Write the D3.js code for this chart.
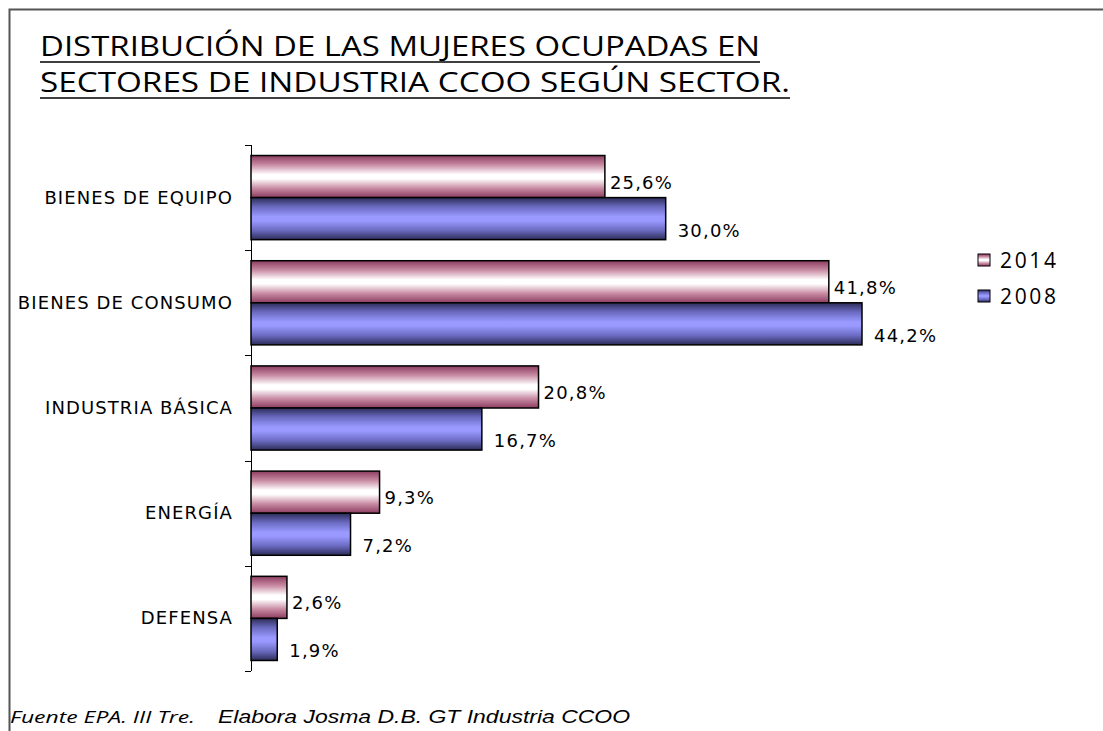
<!DOCTYPE html>
<html>
<head>
<meta charset="utf-8">
<script src="https://cdn.jsdelivr.net/npm/d3@7"></script>
<style>
  body { margin: 0; background: #fff; }
  svg { display: block; }
</style>
</head>
<body>
<svg id="canvas" width="1103" height="731"></svg>
<script>
// data
let sectors = ["BIENES DE EQUIPO", "BIENES DE CONSUMO", "INDUSTRIA BÁSICA", "ENERGÍA", "DEFENSA"];
let years = ["2014", "2008"];
let values2014 = [25.6, 41.8, 20.8, 9.3, 2.6];
let values2008 = [30.0, 44.2, 16.7, 7.2, 1.9];
let titleLines = ["DISTRIBUCIÓN DE LAS MUJERES OCUPADAS EN ", "SECTORES DE INDUSTRIA CCOO SEGÚN SECTOR."];

let canvas = d3.select("#canvas");
let width = +canvas.attr("width");
let height = +canvas.attr("height");

// gradients for the two series
const defs = canvas.append("defs");
const gradStops = {
  "2014": ["#8c3c60", "#c88aa2", "#ffffff", "#ffffff", "#c88aa2", "#8c3c60"],
  "2008": ["#2c2c58", "#6a6ac0", "#9999ff", "#9999ff", "#6a6ac0", "#2c2c58"],
};
const offsets = [0, 0.22, 0.45, 0.55, 0.78, 1];
years.forEach((yr) => {
  const g = defs.append("linearGradient")
    .attr("id", "grad" + yr)
    .attr("x1", 0).attr("y1", 0).attr("x2", 0).attr("y2", 1);
  gradStops[yr].forEach((c, i) => {
    g.append("stop").attr("offset", offsets[i]).attr("stop-color", c);
  });
});

// chart frame
canvas.append("path")
  .attr("d", `M9.5,${height} V9.5 H${width}`)
  .attr("fill", "none")
  .attr("stroke", "#555")
  .attr("stroke-width", 2);

// title
const title = canvas.append("g").attr("font-family", "'Open Sans', sans-serif").attr("font-size", 27);
const titleWidths = [720, 750];
titleLines.forEach((t, i) => {
  title.append("text")
    .attr("x", 40)
    .attr("y", 56 + i * 36)
    .attr("textLength", titleWidths[i])
    .attr("lengthAdjust", "spacingAndGlyphs")
    .attr("fill", "#000")
    .text(t);
  title.append("line")
    .attr("x1", 40).attr("x2", 40 + titleWidths[i])
    .attr("y1", 62 + i * 36).attr("y2", 62 + i * 36)
    .attr("stroke", "#000").attr("stroke-width", 1.5);
});

// scales
const x = d3.scaleLinear().domain([0, 44.2]).range([251, 862]);
const y = d3.scaleBand().domain(sectors).range([145, 671]).paddingInner(0.2).paddingOuter(0.1);
const ySub = d3.scaleBand().domain(years).range([0, y.bandwidth()]);

// axis
const axis = d3.axisLeft(y).tickSize(0).tickFormat("");
const axisG = canvas.append("g").attr("transform", `translate(${x(0)},0)`).call(axis);
axisG.select(".domain").attr("stroke", "#000").attr("stroke-width", 1);
// tick marks sit between categories
const step = (671 - 145) / sectors.length;
const tickYs = d3.range(sectors.length + 1).map((i) => 145 + i * step);
axisG.selectAll(".sep")
  .data(tickYs)
  .enter()
  .append("line")
  .attr("class", "sep")
  .attr("x1", -6).attr("x2", 0)
  .attr("y1", (d) => Math.round(d) + 0.5).attr("y2", (d) => Math.round(d) + 0.5)
  .attr("stroke", "#000");
axisG.select(".domain").attr("d", `M0.5,${tickYs[0]}V${tickYs[tickYs.length - 1]}`);

// category labels
canvas.append("g")
  .selectAll("text")
  .data(sectors)
  .enter()
  .append("text")
  .attr("x", 233)
  .attr("y", (d) => y(d) + y.bandwidth() / 2 + 6)
  .attr("text-anchor", "end")
  .attr("font-family", "'DejaVu Sans', Verdana, sans-serif")
  .attr("font-size", 18)
  .attr("letter-spacing", 1.1)
  .attr("fill", "#000")
  .text((d) => d);

// bars
const series = { "2014": values2014, "2008": values2008 };
const bars = canvas.append("g");
years.forEach((yr) => {
  bars.selectAll(".bar" + yr)
    .data(series[yr])
    .enter()
    .append("rect")
    .attr("class", "bar" + yr)
    .attr("x", x(0))
    .attr("y", (d, i) => y(sectors[i]) + ySub(yr))
    .attr("width", (d) => x(d) - x(0))
    .attr("height", ySub.bandwidth())
    .attr("fill", `url(#grad${yr})`)
    .attr("stroke", "#000")
    .attr("stroke-width", 1.5);
});

// value labels
const fmt = (v) => v.toFixed(1).replace(".", ",") + "%";
years.forEach((yr) => {
  canvas.append("g")
    .selectAll("text")
    .data(series[yr])
    .enter()
    .append("text")
    .attr("x", (d) => x(d) + (yr == "2014" ? 5 : 12))
    .attr("y", (d, i) => y(sectors[i]) + ySub(yr) + ySub.bandwidth() / 2 + (yr == "2014" ? 12 : 18))
    .attr("font-family", "'DejaVu Sans', Verdana, sans-serif")
    .attr("font-size", 18)
    .attr("letter-spacing", 1.2)
    .attr("fill", "#000")
    .text((d) => fmt(d));
});

// legend
const legend = canvas.append("g").attr("transform", "translate(978,254)");
years.forEach((yr, i) => {
  legend.append("rect")
    .attr("x", 0).attr("y", i * 36)
    .attr("width", 12).attr("height", 12)
    .attr("fill", `url(#grad${yr})`)
    .attr("stroke", "#000");
  legend.append("text")
    .attr("x", 22).attr("y", i * 36 + 14)
    .attr("font-family", "'Open Sans', sans-serif")
    .attr("font-size", 21)
    .attr("textLength", 56)
    .text(yr);
});

// footer
canvas.append("text")
  .attr("x", 10).attr("y", 723)
  .attr("font-family", "'Open Sans', sans-serif")
  .attr("font-style", "italic")
  .attr("font-size", 17)
  .attr("textLength", 185)
  .attr("lengthAdjust", "spacingAndGlyphs")
  .text("Fuente EPA. III Tre.");
canvas.append("text")
  .attr("x", 218).attr("y", 723)
  .attr("font-family", "'Liberation Sans', Arial, sans-serif")
  .attr("font-style", "italic")
  .attr("font-size", 18)
  .attr("textLength", 412)
  .attr("lengthAdjust", "spacingAndGlyphs")
  .text("Elabora Josma D.B. GT Industria CCOO");
</script>
</body>
</html>
